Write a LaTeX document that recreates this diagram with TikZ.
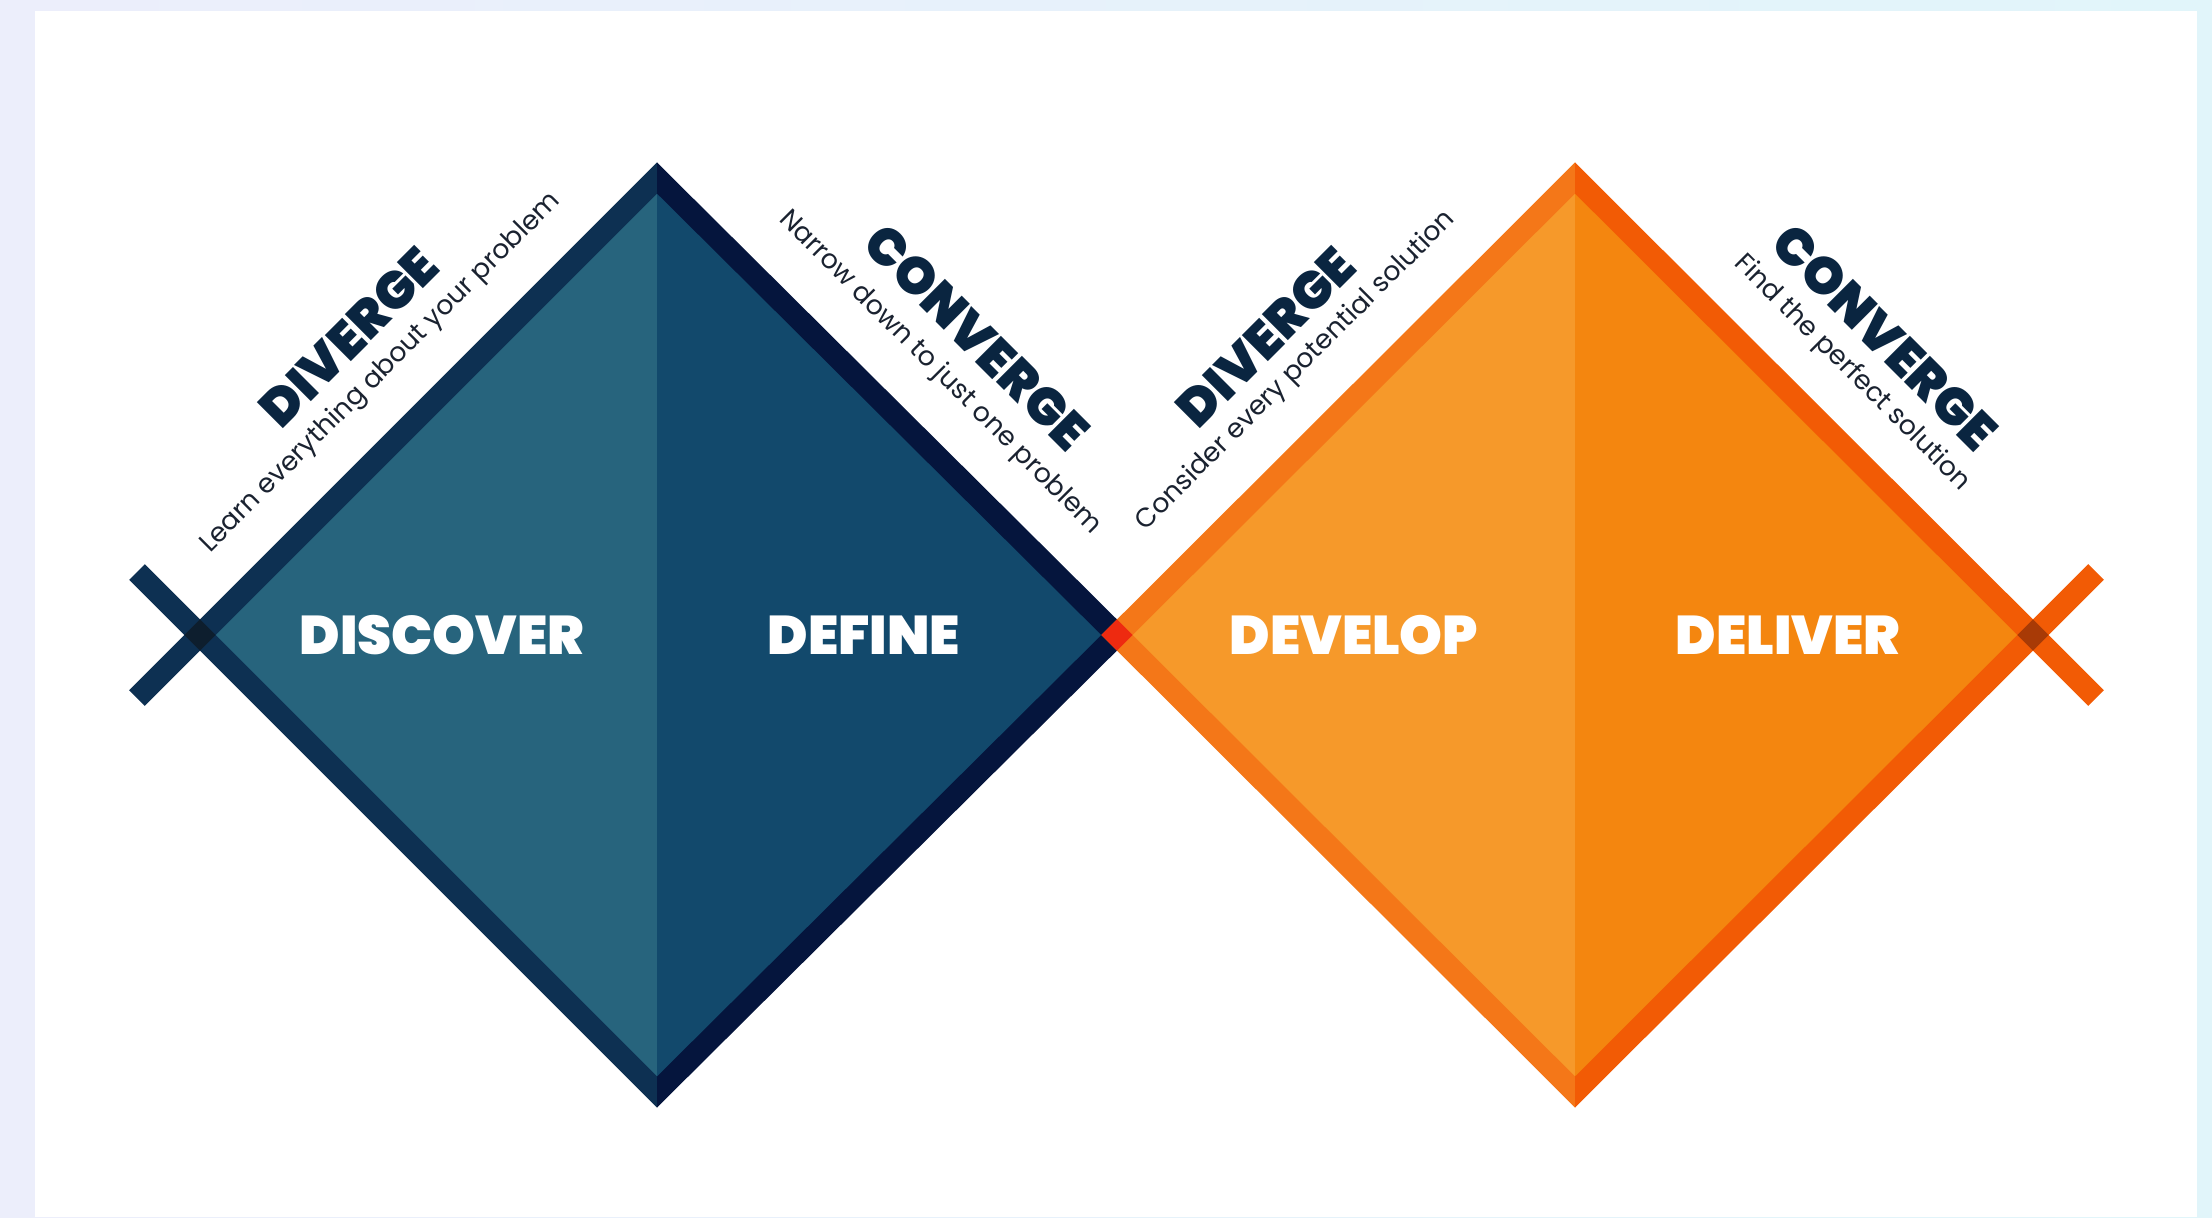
\documentclass[tikz,border=0pt]{standalone}
\usepackage{fontspec}
\setmainfont{Poppins}
\IfFontExistsTF{Poppins Black}{\newfontfamily\heavy{Poppins Black}}{%
  \IfFontExistsTF{Poppins ExtraBold}{\newfontfamily\heavy{Poppins ExtraBold}}{\newcommand\heavy{\bfseries}}}
\definecolor{bgL}{HTML}{ECEEFB}
\definecolor{bgR}{HTML}{E1F5FA}
\definecolor{fillLL}{HTML}{27647D}
\definecolor{fillLR}{HTML}{12496C}
\definecolor{edgeLL}{HTML}{0D3052}
\definecolor{edgeLR}{HTML}{05153D}
\definecolor{crossL}{HTML}{0D1E2E}
\definecolor{fillRL}{HTML}{F6992A}
\definecolor{fillRR}{HTML}{F4860F}
\definecolor{edgeRL}{HTML}{F47718}
\definecolor{edgeRR}{HTML}{F25B05}
\definecolor{crossR}{HTML}{A83A06}
\definecolor{crossM}{HTML}{EE2A10}
\definecolor{ink}{HTML}{0A2540}
\definecolor{subink}{HTML}{1A2230}
\tikzset{
  band/.style={line width=6.26pt, line join=miter, line cap=butt},
  biglabel/.style={inner sep=0pt, text=white, font=\heavy\fontsize{15.5}{15.5}\selectfont},
  phasetitle/.style={inner sep=0pt, text=ink, font=\heavy\fontsize{14.8}{14.8}\selectfont},
  phasesub/.style={inner sep=0pt, text=subink, font=\fontsize{7.6}{7.6}\selectfont},
}
\begin{document}
\begin{tikzpicture}[x=0.01cm,y=-0.01cm]
\useasboundingbox (0,0) rectangle (2212,1217);
\shade[left color=bgL, right color=bgR] (0,0) rectangle (2212,1217);
\fill[white] (35,11) rectangle (2197,1217);
% geometry
\coordinate (L1) at (200,635);
\coordinate (T1) at (657,178);
\coordinate (R1) at (1117,635);
\coordinate (B1) at (657,1092);
\coordinate (T2) at (1575,178);
\coordinate (R2) at (2033,635);
\coordinate (B2) at (1575,1092);
\coordinate (XL1) at (137,572);
\coordinate (XL2) at (137,698);
\coordinate (XR1) at (2096,572);
\coordinate (XR2) at (2096,698);
% fills
\fill[fillLL] (L1)--(T1)--(B1)--cycle;
\fill[fillLR] (T1)--(R1)--(B1)--cycle;
\fill[fillRL] (R1)--(T2)--(B2)--cycle;
\fill[fillRR] (T2)--(R2)--(B2)--cycle;
% left diamond edges
\begin{scope}
\clip (0,0) rectangle (657,1217);
\draw[band, edgeLL] (L1)--(T1)--(R1)--(B1)--cycle;
\end{scope}
\begin{scope}
\clip (657,0) rectangle (1200,1217);
\draw[band, edgeLR] (L1)--(T1)--(R1)--(B1)--cycle;
\end{scope}
\draw[band, edgeLL] (XL1)--(L1)--(XL2);
% right diamond edges
\begin{scope}
\clip (1000,0) rectangle (1575,1217);
\draw[band, edgeRL] (R1)--(T2)--(R2)--(B2)--cycle;
\end{scope}
\begin{scope}
\clip (1575,0) rectangle (2212,1217);
\draw[band, edgeRR] (R1)--(T2)--(R2)--(B2)--cycle;
\end{scope}
\draw[band, edgeRR] (XR1)--(R2)--(XR2);
% crossings
\fill[crossL] (L1) ++(-15.6,0) -- ++(15.6,-15.6) -- ++(15.6,15.6) -- ++(-15.6,15.6) -- cycle;
\fill[crossM] (R1) ++(-15.6,0) -- ++(15.6,-15.6) -- ++(15.6,15.6) -- ++(-15.6,15.6) -- cycle;
\fill[crossR] (R2) ++(-15.6,0) -- ++(15.6,-15.6) -- ++(15.6,15.6) -- ++(-15.6,15.6) -- cycle;
% phase labels
\node[biglabel] (discover) at (442,635) {DISCOVER};
\node[biglabel] (define) at (864,635) {DEFINE};
\node[biglabel] (develop) at (1354,635) {DEVELOP};
\node[biglabel] (deliver) at (1788,635) {DELIVER};
% rotated titles
\node[phasetitle, rotate=45] (div1) at (349,337) {DIVERGE};
\node[phasesub, rotate=45] (div1s) at (381,373) {Learn everything about your problem};
\node[phasetitle, rotate=-45] (con1) at (977,337) {CONVERGE};
\node[phasesub, rotate=-45] (con1s) at (940,373) {Narrow down to just one problem};
\node[phasetitle, rotate=45] (div2) at (1266,337) {DIVERGE};
\node[phasesub, rotate=45] (div2s) at (1296,371) {Consider every potential solution};
\node[phasetitle, rotate=-45] (con2) at (1885,337) {CONVERGE};
\node[phasesub, rotate=-45] (con2s) at (1852,373) {Find the perfect solution};
\end{tikzpicture}
\end{document}
